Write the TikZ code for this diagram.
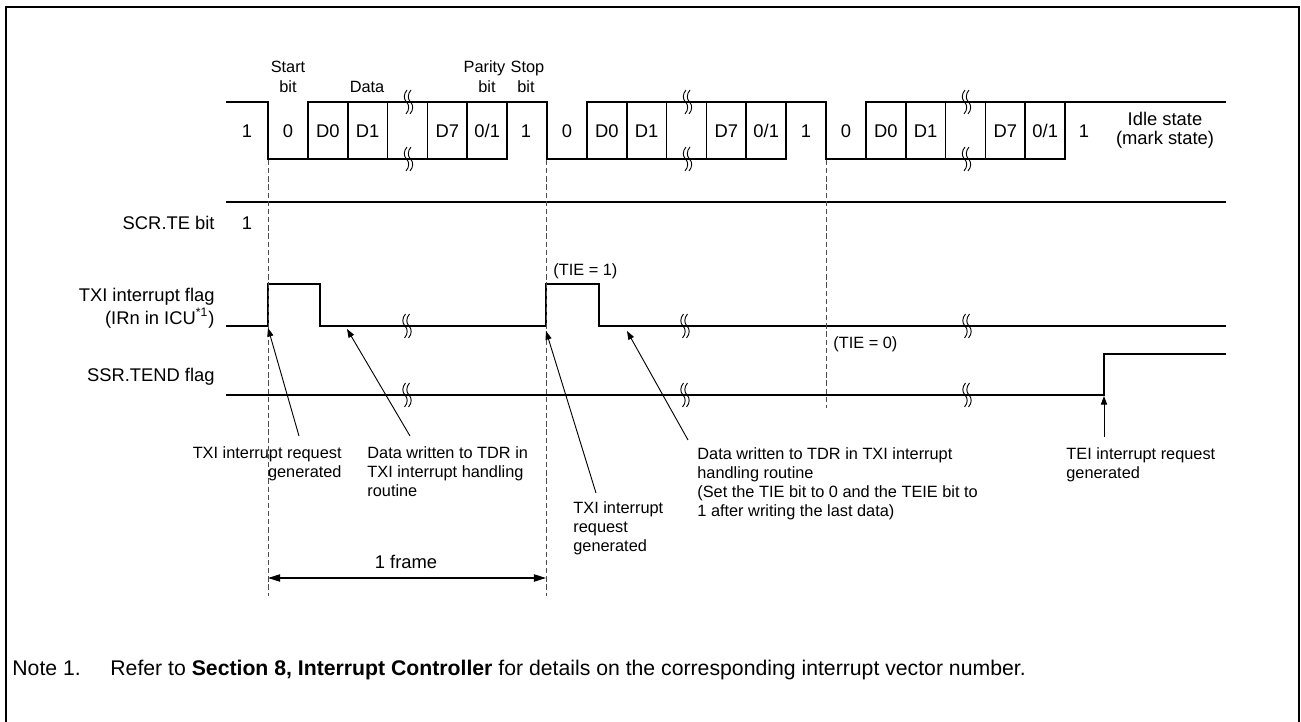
\documentclass[tikz,border=0pt]{standalone}
\usepackage{fontspec}
\setmainfont{Liberation Sans}
\usetikzlibrary{arrows.meta}

\begin{document}
\begin{tikzpicture}[x=0.49pt,y=-0.49pt,
  wave/.style={line width=0.8pt, line cap=rect, line join=miter},
  thinln/.style={line width=0.45pt},
  dashln/.style={black!70, line width=0.45pt, dash pattern=on 2.6pt off 1.4pt},
  arr/.style={line width=0.45pt, -{Triangle[length=4.2pt,width=3pt]}},
  dimarr/.style={line width=0.7pt, {Triangle[length=6pt,width=3.6pt]}-{Triangle[length=6pt,width=3.6pt]}},
  lbl/.style={inner sep=0pt, font=\fontsize{9}{11.3}\selectfont},
  bitlbl/.style={inner sep=0pt, font=\fontsize{9}{9.5}\selectfont},
  small/.style={inner sep=0pt, font=\fontsize{8}{9.4}\selectfont},
  ann/.style={inner sep=0pt, font=\fontsize{8}{9.4}\selectfont},
  notefont/.style={inner sep=0pt, font=\fontsize{10.4}{12}\selectfont},
  brkmark/.pic={
    \draw[thinln] (0.5,-12) .. controls (-3,-8) and (-3,-3) .. (0,0) .. controls (3,3) and (3,8) .. (-0.5,12);
    \draw[thinln] (4.5,-12) .. controls (1,-8) and (1,-3) .. (4,0) .. controls (7,3) and (7,8) .. (3.5,12);
  }
]
\useasboundingbox (0,0) rectangle (1301,722);

% outer frame (open at the bottom)
\draw[line width=1.2pt] (6,730) -- (6,7) -- (1299,7) -- (1299,730);

% ---------- serial data waveform ----------
\draw[wave] (227,102) -- (268,102);
\foreach \s/\e in {268/547, 547/826, 826/1225} {
  \draw[wave] (\s,102) -- (\s,159) -- (\s+239.1,159) -- (\s+239.1,102);
  \draw[wave] (\s+39.9,159) -- (\s+39.9,102) -- (\e,102);
  \foreach \k in {79.7,119.6,159.4,199.3} {
    \draw[wave] (\s+\k,102) -- (\s+\k,159);
  }
  \pic at (\s+138.5,102) {brkmark};
  \pic at (\s+138.5,159) {brkmark};
}

% bit labels in waveform
\node[bitlbl, anchor=base] (b1) at (247,137.5) {1};
\foreach \s/\n in {268/a, 547/b, 826/c} {
  \node[bitlbl, anchor=base] (z\n)  at (\s+20,137.5) {0};
  \node[bitlbl, anchor=base] (d0\n) at (\s+59.8,137.5) {D0};
  \node[bitlbl, anchor=base] (d1\n) at (\s+99.6,137.5) {D1};
  \node[bitlbl, anchor=base] (d7\n) at (\s+179.4,137.5) {D7};
  \node[bitlbl, anchor=base] (p\n)  at (\s+219.2,137.5) {0/1};
}
\node[bitlbl, anchor=base] (s1) at (526,137.5) {1};
\node[bitlbl, anchor=base] (s2) at (806,137.5) {1};
\node[bitlbl, anchor=base] (s3) at (1084,137.5) {1};
\node[bitlbl, anchor=north, align=center] (idle) at (1165,111.5) {Idle state\\(mark state)};

% header labels
\node[small, anchor=base] (hstart) at (288,73) {Start};
\node[small, anchor=base] (hstartb) at (288,93) {bit};
\node[small, anchor=base] (hdata) at (367,93) {Data};
\node[small, anchor=base] (hpar) at (484.5,73) {Parity};
\node[small, anchor=base] (hparb) at (487,93) {bit};
\node[small, anchor=base] (hstop) at (527.5,73) {Stop};
\node[small, anchor=base] (hstopb) at (526,93) {bit};

% ---------- SCR.TE ----------
\draw[wave] (227,202) -- (1225,202);
\node[lbl, anchor=base east] (lscr) at (215,229.6) {SCR.TE bit};
\node[lbl, anchor=base] (scr1) at (247,229.6) {1};

% ---------- TXI interrupt flag ----------
\draw[wave] (227,326) -- (268,326) -- (268,284) -- (320,284) -- (320,326) -- (546,326)
  -- (546,284) -- (599,284) -- (599,326) -- (1225,326);
\node[lbl, anchor=north east, align=right] (ltxi) at (215,287.4) {TXI interrupt flag\\(IRn in ICU\textsuperscript{*1})};
\foreach \x in {405,683,965} { \pic at (\x,326) {brkmark}; }
\node[small, anchor=base west] (tie1) at (553,276) {(TIE = 1)};
\node[small, anchor=base west] (tie0) at (833,349) {(TIE = 0)};

% ---------- SSR.TEND flag ----------
\draw[wave] (227,395) -- (1104,395) -- (1104,354) -- (1225,354);
\node[lbl, anchor=base east] (lssr) at (215,381.6) {SSR.TEND flag};
\foreach \x in {405,683,965} { \pic at (\x,395) {brkmark}; }

% ---------- dashed guide lines ----------
\draw[dashln] (268,160) -- (268,596);
\draw[dashln] (546,160) -- (546,596);
\draw[dashln] (826,160) -- (826,408);

% ---------- annotations ----------
\coordinate (tip1) at (268,328);
\coordinate (tip2) at (347,329);
\coordinate (tip3) at (546,331);
\coordinate (tip4) at (627,331);
\coordinate (tip5) at (1104,396);
\coordinate (tail1) at (299,436);
\coordinate (tail2) at (410,436);
\coordinate (tail3) at (596,493);
\coordinate (tail4) at (688,440);
\coordinate (tail5) at (1104,437);

\draw[arr] (tail1) -- (tip1);
\draw[arr] (tail2) -- (tip2);
\draw[arr] (tail3) -- (tip3);
\draw[arr] (tail4) -- (tip4);
\draw[arr] (tail5) -- (tip5);

\node[ann, anchor=north east, align=right] (t1) at (342,446) {TXI interrupt request\\generated};
\node[ann, anchor=north west, align=left] (t2) at (367,446) {Data written to TDR in\\TXI interrupt handling\\routine};
\node[ann, anchor=north west, align=left] (t3) at (573,501) {TXI interrupt\\request\\generated};
\node[ann, anchor=north west, align=left] (t4) at (697,447) {Data written to TDR in TXI interrupt\\handling routine\\(Set the TIE bit to 0 and the TEIE bit to\\1 after writing the last data)};
\node[ann, anchor=north west, align=left] (t5) at (1066,447) {TEI interrupt request\\generated};

% ---------- 1 frame ----------
\coordinate (fa) at (268,578);
\coordinate (fb) at (546,578);
\draw[dimarr] (fa) -- (fb);
\node[lbl, anchor=base] (frame) at (406,568.6) {1 frame};

% ---------- note ----------
\node[notefont, anchor=base west] (note) at (12,676) {Note 1.};
\node[notefont, anchor=base west] (notetxt) at (110,676) {Refer to \textbf{Section 8, Interrupt Controller} for details on the corresponding interrupt vector number.};
\end{tikzpicture}
\end{document}
